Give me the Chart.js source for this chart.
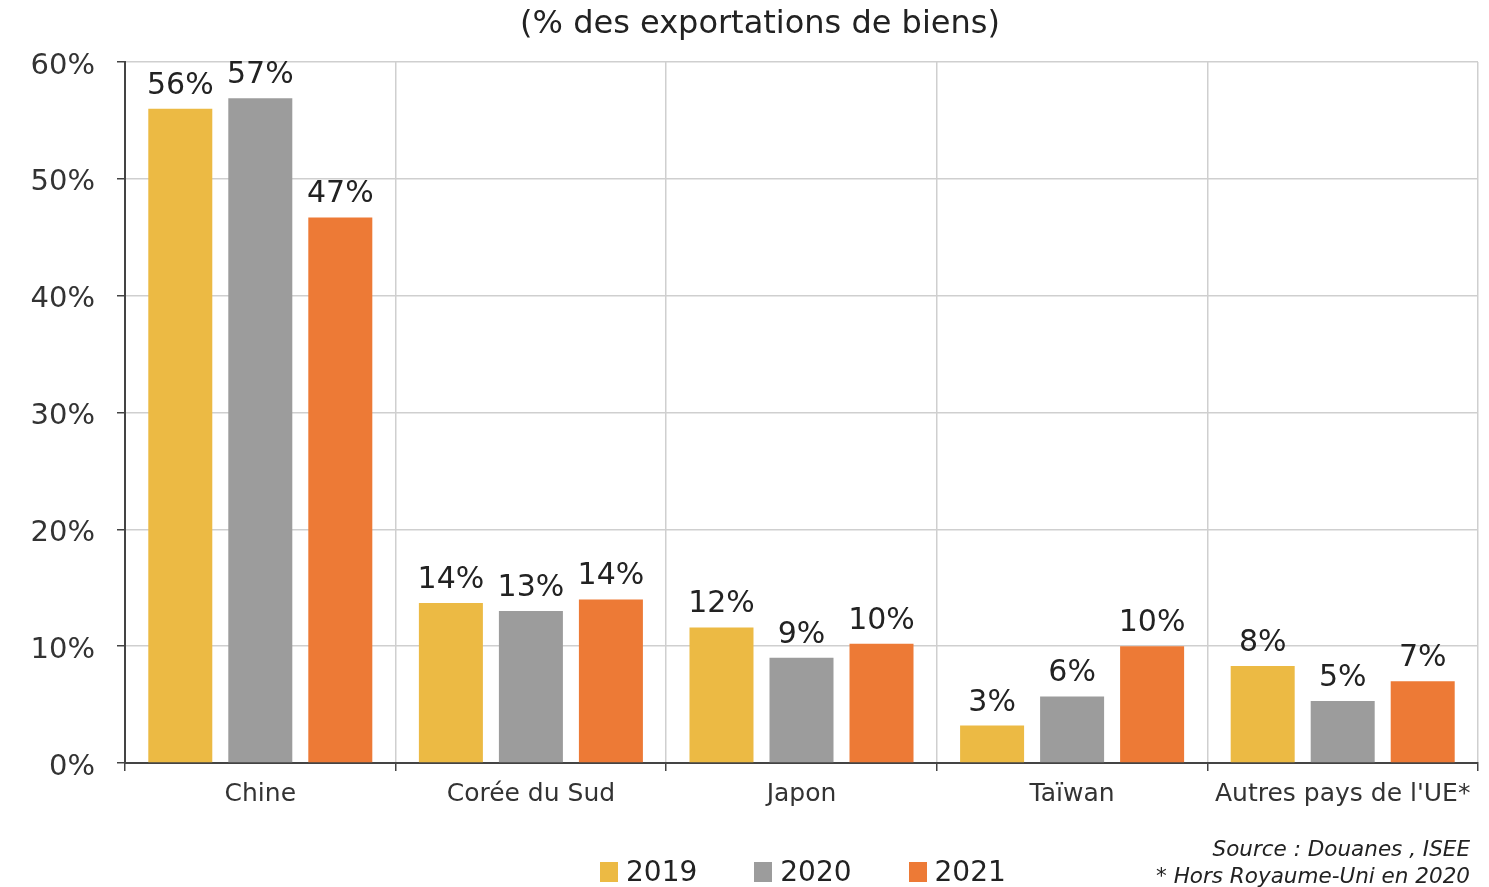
<!DOCTYPE html>
<html>
<head>
<meta charset="utf-8">
<script src="https://cdn.jsdelivr.net/npm/chart.js@4.4.1/dist/chart.umd.min.js"></script>
<style>
  html, body { margin: 0; padding: 0; background: #fff; }
  #wrap { position: relative; width: 1489px; height: 887px; overflow: hidden; font-family: "DejaVu Sans", Verdana, sans-serif; color: #222; }
  #title { position: absolute; left: 0; width: 1520px; top: 3px; text-align: center; font-size: 32px; }
  #legend { position: absolute; left: 600px; top: 855px; display: flex; font-size: 28px; }
  #legend .item { display: flex; align-items: center; margin-right: 57px; }
  #legend .sw { width: 18px; height: 20px; margin-right: 8px; }
  #source { position: absolute; right: 19px; top: 835px; text-align: right; font-size: 21.5px; font-style: italic; line-height: 27px; }
</style>
</head>
<body>
<div id="wrap">
  <div id="title">(% des exportations de biens)</div>
  <canvas id="chart" width="1489" height="887"></canvas>
  <div id="legend"></div>
  <div id="source">Source : Douanes , ISEE<br>* Hors Royaume-Uni en 2020</div>
</div>
<script>
// Categories and series (share of goods exports, %)
const categories = ['Chine', 'Corée du Sud', 'Japon', 'Taïwan', "Autres pays de l'UE*"];
const years = ['2019', '2020', '2021'];
const values2019 = [56.0, 13.7, 11.6, 3.2, 8.3];
const values2020 = [56.9, 13.0, 9.0, 5.7, 5.3];
const values2021 = [46.7, 14.0, 10.2, 10.0, 7.0];
const labels2019 = ['56%', '14%', '12%', '3%', '8%'];
const labels2020 = ['57%', '13%', '9%', '6%', '5%'];
const labels2021 = ['47%', '14%', '10%', '10%', '7%'];
const yTicks = [0, 10, 20, 30, 40, 50, 60];
const colors = ['#ECBA44', '#9C9C9C', '#ED7A36'];

const seriesValues = [values2019, values2020, values2021];
const seriesLabels = [labels2019, labels2020, labels2021];

const FONT = '"DejaVu Sans", Verdana, sans-serif';

// legend (html)
const legendEl = document.getElementById('legend');
years.forEach((y, i) => {
    const item = document.createElement('div');
    item.className = 'item';
    item.innerHTML = `<span class="sw" style="background:${colors[i]}"></span><span>${y}</span>`;
    legendEl.appendChild(item);
});

const valueLabels = {
    id: 'valueLabels',
    afterDatasetsDraw(chart) {
        const ctx = chart.ctx;
        ctx.save();
        ctx.font = `30px ${FONT}`;
        ctx.fillStyle = '#222';
        ctx.textAlign = 'center';
        ctx.textBaseline = 'alphabetic';
        chart.data.datasets.forEach((ds, di) => {
            const meta = chart.getDatasetMeta(di);
            meta.data.forEach((bar, i) => {
                ctx.fillText(seriesLabels[di][i], bar.x, bar.y - 15);
            });
        });
        ctx.restore();
    }
};

const ctx = document.getElementById('chart').getContext('2d');
new Chart(ctx, {
    type: 'bar',
    data: {
        labels: categories,
        datasets: years.map((y, i) => ({
            label: y,
            data: seriesValues[i],
            backgroundColor: colors[i],
            borderWidth: 0,
            categoryPercentage: 0.887,
            barPercentage: 0.8,
        })),
    },
    options: {
        responsive: false,
        animation: false,
        layout: { padding: { top: 62, right: 11, left: 0, bottom: 0 } },
        scales: {
            x: {
                grid: { color: '#cfcfcf', tickColor: '#444', tickLength: 8, lineWidth: 1.5 },
                border: { color: '#444', width: 2 },
                ticks: { color: '#333', font: { family: FONT, size: 25 }, padding: 8, maxRotation: 0, autoSkip: false },
                afterFit(scale) { scale.height = 124; },
            },
            y: {
                min: 0,
                max: 60,
                afterBuildTicks(scale) { scale.ticks = yTicks.map((v) => ({ value: v })); },
                grid: { color: '#cfcfcf', tickColor: '#444', tickLength: 8, lineWidth: 1.5 },
                border: { color: '#444', width: 2 },
                ticks: { color: '#333', font: { family: FONT, size: 29 }, padding: 22, labelOffset: 4, callback: (v) => v + '%' },
                afterFit(scale) { scale.width = 125; },
            },
        },
        plugins: { legend: { display: false }, title: { display: false }, tooltip: { enabled: false } },
    },
    plugins: [valueLabels],
});
</script>
</body>
</html>
